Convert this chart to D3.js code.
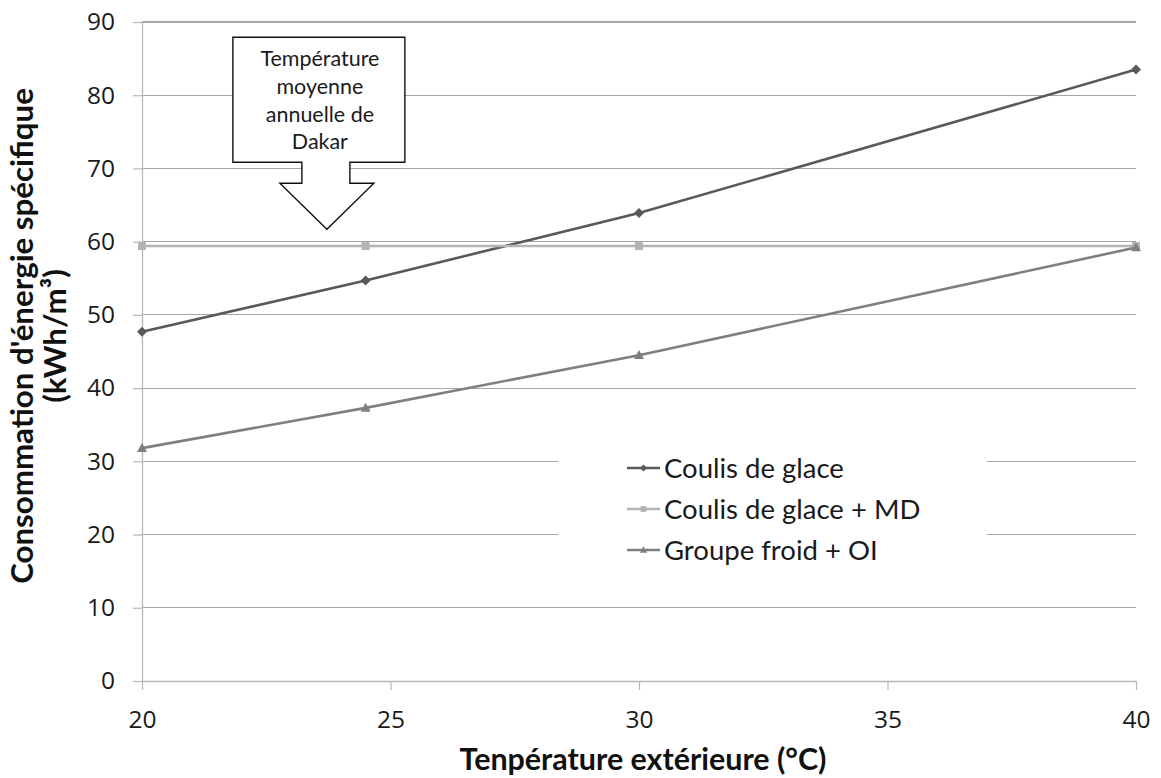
<!DOCTYPE html>
<html><head><meta charset="utf-8">
<script src="https://cdn.jsdelivr.net/npm/d3@7"></script>
<style>body{margin:0;background:#fff} svg{display:block}</style>
</head><body><svg id="chart" width="1161" height="778"></svg>
<script>
// ---- data ----
const temperatures = [20, 24.5, 30, 40];
const coulisGlace = [47.7, 54.7, 63.9, 83.5];
const coulisGlaceMD = [59.4, 59.4, 59.4, 59.4];
const groupeFroidOI = [31.8, 37.3, 44.5, 59.2];
const seriesNames = ["Coulis de glace", "Coulis de glace + MD", "Groupe froid + OI"];
const xTicks = [20, 25, 30, 35, 40];
const yTicks = [0, 10, 20, 30, 40, 50, 60, 70, 80, 90];
const xTitle = "Tenpérature extérieure (°C)";
const yTitle1 = "Consommation d'énergie spécifique";
const yTitle2 = "(kWh/m³)";
const calloutLines = ["Température", "moyenne", "annuelle de", "Dakar"];
const calloutTip = {temp: 23.72, value: 61.7};

// ---- layout ----
const svg = d3.select("#chart");
const x = d3.scaleLinear().domain([20, 40]).range([142, 1136]);
const y = d3.scaleLinear().domain([0, 90]).range([681, 22]);
const gridColor = "#a6a6a6", axisColor = "#b8b8b8";
const colors = ["#595959", "#b4b4b4", "#7f7f7f"];
const shapes = ["diamond", "square", "triangle"];
const series = [coulisGlace, coulisGlaceMD, groupeFroidOI].map((vals, i) => ({
  name: seriesNames[i], color: colors[i], shape: shapes[i],
  points: temperatures.map((t, j) => ({t, v: vals[j]}))
}));

function fitWidth(sel, target) {
  const w = sel.node().getComputedTextLength();
  const fs = parseFloat(sel.attr("font-size"));
  sel.attr("font-size", fs * target / w);
}
function markerPath(shape, s) {
  if (shape === "diamond") return `M0,${-s}L${s},0L0,${s}L${-s},0Z`;
  if (shape === "square") return `M${-s*0.8},${-s*0.8}H${s*0.8}V${s*0.8}H${-s*0.8}Z`;
  return `M0,${-s*1.05}L${s},${s*0.75}L${-s},${s*0.75}Z`;
}

// gridlines
svg.append("g").selectAll("line").data(yTicks.filter(d => d > 0)).join("line")
  .attr("x1", x(20)).attr("x2", x(40))
  .attr("y1", d => y(d)).attr("y2", d => y(d))
  .attr("stroke", gridColor).attr("stroke-width", 1.2).attr("shape-rendering", "crispEdges");

// axes
const yAxis = svg.append("g").attr("transform", `translate(${x(20)},0)`)
  .call(d3.axisLeft(y).tickValues(yTicks).tickSize(9).tickSizeOuter(0).tickPadding(18).tickFormat(d3.format("d")));
const xAxis = svg.append("g").attr("transform", `translate(0,${y(0)})`)
  .call(d3.axisBottom(x).tickValues(xTicks).tickSize(9).tickSizeOuter(0).tickPadding(21).tickFormat(d3.format("d")));
[yAxis, xAxis].forEach(g => {
  g.attr("font-family", "Open Sans").attr("font-size", 24.5);
  g.select(".domain").attr("stroke", axisColor).attr("stroke-width", 1.3);
  g.selectAll(".tick line").attr("stroke", axisColor).attr("stroke-width", 1.2);
  g.selectAll(".tick text").style("font-family", "'Open Sans'").style("font-size", "24.5px").attr("fill", "#1a1a1a");
});

// series
const line = d3.line().x(d => x(d.t)).y(d => y(d.v));
series.forEach(s => {
  svg.append("path").datum(s.points).attr("d", line)
    .attr("fill", "none").attr("stroke", s.color).attr("stroke-width", 2.6);
  svg.append("g").selectAll("path").data(s.points).join("path")
    .attr("transform", d => `translate(${x(d.t)},${y(d.v)})`)
    .attr("d", markerPath(s.shape, 5)).attr("fill", s.color);
});

// legend (white box hiding gridlines)
const lg = svg.append("g");
lg.append("rect").attr("x", 558).attr("y", 442).attr("width", 429).attr("height", 140).attr("fill", "#fff");
const legendY = [468, 509, 550];
series.forEach((s, i) => {
  const g = lg.append("g").attr("transform", `translate(627,${legendY[i]})`);
  g.append("line").attr("x1", 0).attr("x2", 33).attr("stroke", s.color).attr("stroke-width", 2.6);
  g.append("path").attr("transform", "translate(16.5,0)").attr("d", markerPath(s.shape, 3.6)).attr("fill", s.color);
  const t = g.append("text").attr("x", 37).attr("dy", "0.36em").attr("font-family", "Lato")
    .attr("font-size", 22).attr("fill", "#1a1a1a").text(s.name);
  if (i === 0) fitWidth(t, 180);
});
const lfs = lg.select("text").attr("font-size");
lg.selectAll("text").attr("font-size", lfs);

// callout arrow
const tx = x(calloutTip.temp), ty = y(calloutTip.value);
const co = svg.append("g");
co.append("path")
  .attr("d", `M${tx-94},${ty-192} H${tx+78} V${ty-67} H${tx+23} V${ty-46} H${tx+47} L${tx},${ty} L${tx-47},${ty-46} H${tx-25} V${ty-67} H${tx-94} Z`)
  .attr("fill", "#fff").attr("stroke", "#111").attr("stroke-width", 1.4);
const cBase = [ty-163, ty-135, ty-107.5, ty-80];
calloutLines.forEach((l, i) => {
  co.append("text").attr("x", tx - 7).attr("y", cBase[i]).attr("text-anchor", "middle")
    .attr("font-family", "Lato").attr("font-size", 18).attr("fill", "#1a1a1a").text(l);
});
const ct = co.select("text"); fitWidth(ct, 119);
co.selectAll("text").attr("font-size", ct.attr("font-size"));

// axis titles
const xt = svg.append("text").attr("x", 643).attr("y", 770).attr("text-anchor", "middle")
  .attr("font-family", "Lato").attr("font-weight", "bold").attr("font-size", 24).attr("fill", "#111").text(xTitle);
fitWidth(xt, 367);
const yt1 = svg.append("text").attr("transform", "translate(33,336) rotate(-90)").attr("text-anchor", "middle")
  .attr("font-family", "Lato").attr("font-weight", "bold").attr("font-size", 24).attr("fill", "#111").text(yTitle1);
fitWidth(yt1, 496);
svg.append("text").attr("transform", "translate(66,336) rotate(-90)").attr("text-anchor", "middle")
  .attr("font-family", "Lato").attr("font-weight", "bold").attr("font-size", yt1.attr("font-size")).attr("fill", "#111").text(yTitle2);
</script></body></html>
